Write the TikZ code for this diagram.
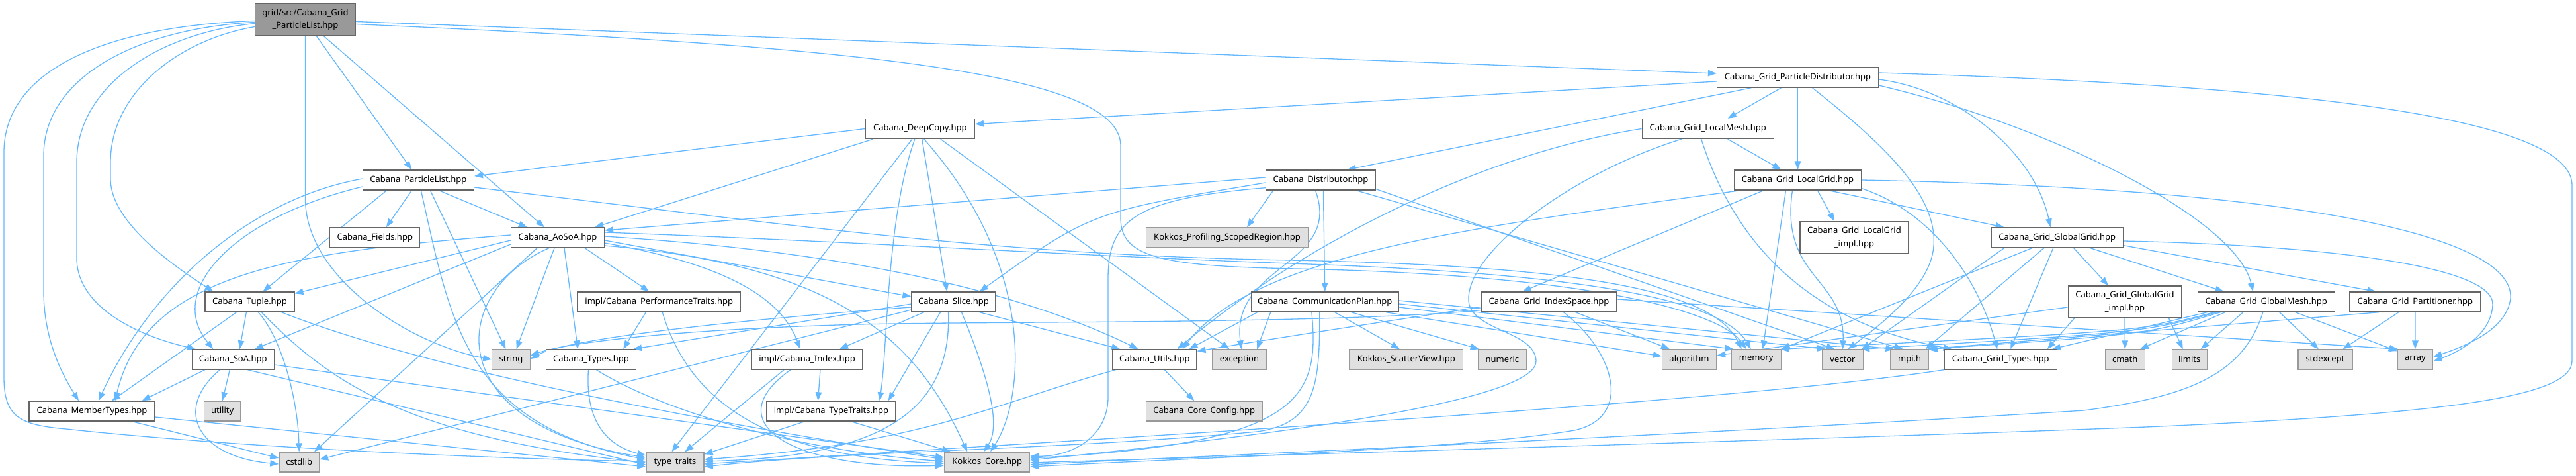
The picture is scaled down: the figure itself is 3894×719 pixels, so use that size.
\documentclass[tikz,border=0pt]{standalone}
\usepackage{fontspec}
\setmainfont{Noto Sans}
\usetikzlibrary{arrows.meta,calc}
\definecolor{edgec}{HTML}{63B8FF}
\definecolor{nodeborder}{HTML}{666666}
\definecolor{extfill}{HTML}{E0E0E0}
\definecolor{extborder}{HTML}{999999}
\definecolor{rootfill}{HTML}{999999}
\pgfdeclarelayer{bg}
\pgfsetlayers{bg,main}
\newcommand\nfont{\fontsize{13}{19.4}\selectfont}
\begin{document}
\begin{tikzpicture}[x=1pt,y=-1pt,
  nbox/.style={draw=nodeborder, fill=white, line width=1.3pt, minimum height=30pt, inner sep=0pt, font=\nfont, align=center, text=black},
  xbox/.style={nbox, draw=extborder, fill=extfill},
  rbox/.style={nbox, fill=rootfill, draw=nodeborder},
  edg/.style={draw=edgec, line width=1.3pt, -{Triangle[length=13pt,width=9.5pt]}}]
\useasboundingbox (0,0) rectangle (3894,719);
% nodes
\node[rbox, minimum width=152pt, minimum height=49pt] (root) at (461.5,29.5) {grid/src/Cabana\_Grid\\\_ParticleList.hpp};
\node[nbox, minimum width=244pt] (PD) at (2717.5,117) {Cabana\_Grid\_ParticleDistributor.hpp};
\node[nbox, minimum width=165pt] (DC) at (1390.8,194.5) {Cabana\_DeepCopy.hpp};
\node[nbox, minimum width=199pt] (LM) at (2581.7,194.5) {Cabana\_Grid\_LocalMesh.hpp};
\node[nbox, minimum width=168pt] (PL) at (632.4,272) {Cabana\_ParticleList.hpp};
\node[nbox, minimum width=166pt] (Dist) at (1996.4,272) {Cabana\_Distributor.hpp};
\node[nbox, minimum width=192pt] (LG) at (2717.5,272) {Cabana\_Grid\_LocalGrid.hpp};
\node[nbox, minimum width=136pt] (Fields) at (566.8,359) {Cabana\_Fields.hpp};
\node[nbox, minimum width=141pt] (AoSoA) at (843,359) {Cabana\_AoSoA.hpp};
\node[xbox, minimum width=245pt] (SR) at (1855,359) {Kokkos\_Profiling\_ScopedRegion.hpp};
\node[nbox, minimum width=164pt, minimum height=48pt] (LGi) at (2803,359) {Cabana\_Grid\_LocalGrid\\\_impl.hpp};
\node[nbox, minimum width=199pt] (GG) at (3109.7,359) {Cabana\_Grid\_GlobalGrid.hpp};
\node[nbox, minimum width=135pt] (Tuple) at (377.4,456) {Cabana\_Tuple.hpp};
\node[nbox, minimum width=247pt] (PT) at (996.3,456) {impl/Cabana\_PerformanceTraits.hpp};
\node[nbox, minimum width=127pt] (Slice) at (1441.5,456) {Cabana\_Slice.hpp};
\node[nbox, minimum width=223pt] (CP) at (2002.8,456) {Cabana\_CommunicationPlan.hpp};
\node[nbox, minimum width=205pt] (IS) at (2341.5,456) {Cabana\_Grid\_IndexSpace.hpp};
\node[nbox, minimum width=171.5pt, minimum height=48pt] (GGi) at (3212,456) {Cabana\_Grid\_GlobalGrid\\\_impl.hpp};
\node[nbox, minimum width=207pt] (GM) at (3425.7,456) {Cabana\_Grid\_GlobalMesh.hpp};
\node[nbox, minimum width=198pt] (Part) at (3650.8,456) {Cabana\_Grid\_Partitioner.hpp};
\node[nbox, minimum width=124pt] (SoA) at (352.3,543) {Cabana\_SoA.hpp};
\node[xbox, minimum width=57.6pt] (string) at (772.5,543) {string};
\node[nbox, minimum width=136pt] (Types) at (893.5,543) {Cabana\_Types.hpp};
\node[nbox, minimum width=167pt] (Index) at (1220,543) {impl/Cabana\_Index.hpp};
\node[nbox, minimum width=127pt] (Utils) at (1745.4,543) {Cabana\_Utils.hpp};
\node[xbox, minimum width=82pt] (exception) at (1873.5,543) {exception};
\node[xbox, minimum width=172pt] (SV) at (2125.8,543) {Kokkos\_ScatterView.hpp};
\node[xbox, minimum width=73pt] (numeric) at (2270.9,543) {numeric};
\node[xbox, minimum width=82pt] (algorithm) at (2553.5,543) {algorithm};
\node[xbox, minimum width=75pt] (memory) at (2654.7,543) {memory};
\node[xbox, minimum width=62pt] (vector) at (2785.5,543) {vector};
\node[xbox, minimum width=57pt] (mpi) at (2886.6,543) {mpi.h};
\node[nbox, minimum width=170pt] (GT) at (3024.2,543) {Cabana\_Grid\_Types.hpp};
\node[xbox, minimum width=60pt] (cmath) at (3212.2,543) {cmath};
\node[xbox, minimum width=53pt] (limits) at (3309.7,543) {limits};
\node[xbox, minimum width=82pt] (stdexcept) at (3514.9,543) {stdexcept};
\node[xbox, minimum width=53.5pt] (array) at (3650.9,543) {array};
\node[nbox, minimum width=190pt] (MT) at (139,621) {Cabana\_MemberTypes.hpp};
\node[xbox, minimum width=55.5pt] (utility) at (336.2,621) {utility};
\node[nbox, minimum width=195pt] (TT) at (1256.5,621) {impl/Cabana\_TypeTraits.hpp};
\node[xbox, minimum width=176pt] (CC) at (1820.2,621) {Cabana\_Core\_Config.hpp};
\node[xbox, minimum width=60.5pt] (cstdlib) at (452.2,698) {cstdlib};
\node[xbox, minimum width=87pt] (tt) at (1020.4,698) {type\_traits};
\node[xbox, minimum width=129pt] (KC) at (1492.2,698) {Kokkos\_Core.hpp};
\begin{pgfonlayer}{bg}
\fill[white] (0,0) rectangle (3894,719);
% root
\draw[edg] ($(root.east)+(0,3)$) -- ($(PD.west)+(0,-6)$);
\draw[edg] ($(root.south)+(17,0)$) -- ($(PL.north)+(-10,0)$);
\draw[edg] ($(root.south)+(28,0)$) -- ($(AoSoA.north)+(-20,0)$);
\draw[edg] ($(root.west)+(0,2)$) .. controls (150,40) and (6,110) .. (6,230) -- (6,570) .. controls (6,630) and (30,642) .. (100,648) .. controls (400,680) and (800,694) .. ($(tt.west)+(0,-1)$);
\draw[edg] ($(root.west)+(0,4)$) .. controls (200,44) and (66,120) .. (66,235) -- (66,440) .. controls (66,520) and (100,575) .. ($(MT.north)+(-20,0)$);
\draw[edg] ($(root.west)+(0,6)$) .. controls (240,50) and (116,130) .. (116,245) -- (116,390) .. controls (116,460) and (200,505) .. ($(SoA.north west)+(6,0)$);
\draw[edg] ($(root.west)+(0,11)$) .. controls (270,60) and (167,140) .. (167,245) -- (167,270) .. controls (167,335) and (260,400) .. ($(Tuple.north)+(-55,0)$);
\draw[edg] (root.south) -- (461.5,300) .. controls (461.5,420) and (620,520) .. (string.west);
\draw[edg] ($(root.east)+(0,7)$) .. controls (1300,70) and (1694,110) .. (1694,220) -- (1694,330) .. controls (1694,390) and (1760,402) .. (1960,406) .. controls (2400,415) and (2600,470) .. ($(memory.north)+(-15,0)$);
% PD
\draw[edg] ($(PD.west)+(0,6)$) -- ($(DC.east)+(0,-7)$);
\draw[edg] ($(PD.south)+(-70,0)$) -- ($(Dist.north)+(40,0)$);
\draw[edg] ($(PD.south)+(-25,0)$) -- ($(LM.north)+(30,0)$);
\draw[edg] (PD.south) -- (LG.north);
\draw[edg] ($(PD.south)+(22,0)$) .. controls (2850,220) and (2935,300) .. (2922,380) .. controls (2912,440) and (2830,500) .. ($(vector.north)+(8,0)$);
\draw[edg] ($(PD.east)+(0,3)$) .. controls (2960,135) and (3075,230) .. ($(GG.north)+(-10,0)$);
\draw[edg] ($(PD.east)+(0,12)$) .. controls (3100,190) and (3380,330) .. ($(GM.north)+(-20,0)$);
\draw[edg] ($(PD.east)+(0,-7)$) .. controls (3500,130) and (3888,180) .. (3888,280) -- (3888,545) .. controls (3888,600) and (3700,625) .. (3244,645) .. controls (2800,662) and (2000,685) .. ($(KC.east)+(0,1)$);
% DeepCopy
\draw[edg] (DC.west) -- ($(PL.east)+(0,-6)$);
\draw[edg] ($(DC.south west)+(12,0)$) -- ($(AoSoA.north east)+(-15,0)$);
\draw[edg] ($(DC.south)+(-12,0)$) -- ($(tt.north)+(-5,0)$);
\draw[edg] ($(DC.south)+(-8,0)$) .. controls (1340,330) and (1342,520) .. ($(TT.north east)+(-25,0)$);
\draw[edg] ($(DC.south)+(3,0)$) -- ($(Slice.north)+(-10,0)$);
\draw[edg] ($(DC.south)+(6,0)$) .. controls (1565,400) and (1550,600) .. ($(KC.north)+(5,0)$);
\draw[edg] ($(DC.south)+(31,0)$) -- ($(exception.north)+(-15,0)$);
% LocalMesh
\draw[edg] ($(LM.south)+(30,0)$) -- ($(LG.north)+(-25,0)$);
\draw[edg] ($(LM.south)+(-10,0)$) .. controls (2610,330) and (2700,480) .. ($(GT.north west)+(12,0)$);
\draw[edg] (LM.west) .. controls (2250,230) and (1980,360) .. ($(Utils.north east)+(-30,0)$);
\draw[edg] ($(LM.south)+(-40,0)$) .. controls (2380,260) and (2215,380) .. (2220,455) .. controls (2225,500) and (2320,500) .. (2322,545) .. controls (2324,600) and (2000,650) .. ($(KC.east)+(0,-3)$);
% ParticleList
\draw[edg] ($(PL.west)+(0,-2)$) .. controls (380,300) and (230,430) .. ($(MT.north)+(10,0)$);
\draw[edg] ($(PL.west)+(0,10)$) .. controls (350,330) and (250,440) .. ($(SoA.north)+(-30,0)$);
\draw[edg] ($(PL.south)+(-48,0)$) -- ($(Tuple.north)+(20,0)$);
\draw[edg] ($(PL.south)+(-10,0)$) -- ($(Fields.north)+(17,0)$);
\draw[edg] ($(PL.south)+(4,0)$) .. controls (680,480) and (700,640) .. ($(tt.west)+(0,-4)$);
\draw[edg] ($(PL.south)+(18,0)$) -- ($(string.north)+(-8,0)$);
\draw[edg] ($(PL.south)+(31,0)$) -- ($(AoSoA.north west)+(25,0)$);
\draw[edg] ($(PL.east)+(0,11)$) .. controls (1200,340) and (1500,385) .. (1950,393) .. controls (2400,402) and (2590,440) .. ($(memory.north)+(-22,0)$);
% AoSoA
\draw[edg] ($(AoSoA.west)+(0,-4)$) .. controls (450,380) and (220,410) .. ($(MT.north)+(35,0)$);
\draw[edg] ($(AoSoA.west)+(0,4)$) -- ($(Tuple.north east)+(0,3)$);
\draw[edg] ($(AoSoA.west)+(0,10)$) -- ($(SoA.north east)+(-30,0)$);
\draw[edg] ($(AoSoA.south west)+(40,0)$) -- ($(cstdlib.north east)+(-8,0)$);
\draw[edg] ($(AoSoA.south west)+(58,0)$) .. controls (680,440) and (660,640) .. ($(tt.west)+(0,-7)$);
\draw[edg] ($(AoSoA.south)+(-5,0)$) -- ($(string.north)+(8,0)$);
\draw[edg] ($(AoSoA.south)+(10,0)$) -- ($(Types.north)+(-20,0)$);
\draw[edg] ($(AoSoA.south east)+(-30,0)$) -- ($(PT.north)+(-15,0)$);
\draw[edg] ($(AoSoA.east)+(0,-2)$) .. controls (1200,375) and (1500,420) .. ($(Utils.north)+(-25,0)$);
\draw[edg] ($(AoSoA.east)+(0,4)$) -- ($(Slice.west)+(0,-8)$);
\draw[edg] ($(AoSoA.east)+(0,8)$) .. controls (1100,400) and (1180,450) .. ($(Index.north)+(-10,0)$);
\draw[edg] ($(AoSoA.east)+(0,12)$) .. controls (1250,400) and (1380,500) .. ($(KC.north)+(-30,0)$);
\draw[edg] ($(AoSoA.east)+(0,-8)$) .. controls (1300,365) and (1600,385) .. (1950,398) .. controls (2380,412) and (2600,450) .. ($(memory.north)+(-8,0)$);
% Tuple
\draw[edg] ($(Tuple.south)+(-20,0)$) -- ($(MT.north)+(30,0)$);
\draw[edg] ($(Tuple.south)+(-5,0)$) -- ($(SoA.north)+(10,0)$);
\draw[edg] ($(Tuple.south)+(13,0)$) .. controls (425,510) and (450,600) .. (cstdlib.north);
\draw[edg] ($(Tuple.south)+(18,0)$) .. controls (500,580) and (620,660) .. ($(tt.west)+(0,1)$);
\draw[edg] ($(Tuple.south east)+(-20,0)$) .. controls (600,540) and (900,610) .. ($(KC.west)+(0,-4)$);
% SoA
\draw[edg] ($(SoA.south west)+(20,0)$) -- ($(MT.north east)+(-20,0)$);
\draw[edg] ($(SoA.south)+(-20,0)$) .. controls (260,620) and (300,690) .. ($(cstdlib.west)+(0,3)$);
\draw[edg] ($(SoA.south)+(-5,0)$) -- (utility.north);
\draw[edg] ($(SoA.south)+(22,0)$) -- ($(tt.west)+(0,4)$);
\draw[edg] ($(SoA.east)+(0,8)$) -- ($(KC.west)+(0,-7)$);
% MemberTypes
\draw[edg] ($(MT.south east)+(-35,0)$) -- ($(cstdlib.west)+(0,-6)$);
\draw[edg] ($(MT.east)+(0,9)$) -- ($(tt.west)+(0,7)$);
% Types
\draw[edg] ($(Types.south)+(-4,0)$) .. controls (885,620) and (905,670) .. ($(tt.west)+(0,-10)$);
\draw[edg] ($(Types.south)+(8,0)$) .. controls (1000,620) and (1200,680) .. ($(KC.west)+(0,-1)$);
% PerformanceTraits
\draw[edg] ($(PT.south)+(-20,0)$) -- ($(Types.north east)+(-20,0)$);
\draw[edg] ($(PT.south)+(5,0)$) .. controls (1040,600) and (1150,690) .. ($(KC.west)+(0,2)$);
% Index
\draw[edg] ($(Index.south)+(-35,0)$) -- ($(tt.north)+(15,0)$);
\draw[edg] ($(Index.south)+(-25,0)$) .. controls (1080,640) and (1200,710) .. ($(KC.west)+(0,5)$);
\draw[edg] ($(Index.south)+(20,0)$) -- ($(TT.north)+(-20,0)$);
% TypeTraits
\draw[edg] ($(TT.south)+(-40,0)$) -- ($(tt.north east)+(0,4)$);
\draw[edg] ($(TT.south)+(30,0)$) -- ($(KC.north west)+(10,0)$);
% Utils
\draw[edg] ($(Utils.south)+(15,0)$) -- ($(CC.north)+(-15,0)$);
\draw[edg] ($(Utils.south west)+(5,0)$) .. controls (1500,610) and (1400,670) .. ($(tt.east)+(0,-4)$);
% Grid types
\draw[edg] (GT.south west) .. controls (2600,610) and (1700,660) .. ($(tt.east)+(0,3)$);
% CommunicationPlan
\draw[edg] ($(CP.south west)+(10,0)$) -- ($(Utils.north east)+(-12,0)$);
\draw[edg] ($(CP.south west)+(30,0)$) -- ($(exception.north east)+(-15,0)$);
\draw[edg] ($(CP.south)+(-8,0)$) .. controls (1995,580) and (1990,640) .. (1900,652) .. controls (1600,680) and (1300,680) .. ($(tt.east)+(0,7)$);
\draw[edg] ($(CP.south)+(-20,0)$) .. controls (1995,600) and (1970,670) .. ($(KC.east)+(0,-6)$);
\draw[edg] ($(CP.south)+(15,0)$) -- ($(SV.north)+(-10,0)$);
\draw[edg] ($(CP.south)+(40,0)$) -- ($(numeric.north west)+(2,0)$);
\draw[edg] ($(CP.south east)+(-20,0)$) -- ($(algorithm.west)+(0,-5)$);
\draw[edg] ($(CP.east)+(0,8)$) -- ($(memory.north west)+(4,0)$);
\draw[edg] ($(CP.east)+(0,3)$) -- ($(vector.north west)+(6,0)$);
\draw[edg] ($(CP.east)+(0,-2)$) -- ($(mpi.north west)+(6,0)$);
% IndexSpace
\draw[edg] ($(IS.south west)+(0,-8)$) .. controls (2000,500) .. ($(Utils.north east)+(0,3)$);
\draw[edg] ($(IS.south west)+(0,-3)$) .. controls (2000,490) and (1500,485) .. (1300,490) .. controls (1000,498) and (850,520) .. ($(string.east)+(0,-6)$);
\draw[edg] ($(IS.south)+(22,0)$) .. controls (2440,530) and (2470,630) .. (2380,650) .. controls (2200,680) and (1800,692) .. ($(KC.east)+(0,7)$);
\draw[edg] ($(IS.south)+(40,0)$) -- ($(algorithm.north west)+(12,0)$);
\draw[edg] ($(IS.east)+(0,-4)$) -- ($(array.north west)+(2,0)$);
% Slice
\draw[edg] ($(Slice.west)+(0,3)$) -- ($(Types.north east)+(-5,0)$);
\draw[edg] ($(Slice.west)+(0,8)$) .. controls (1150,480) and (860,510) .. ($(string.east)+(0,-1)$);
\draw[edg] ($(Slice.west)+(0,12)$) -- ($(cstdlib.east)+(0,-4)$);
\draw[edg] ($(Slice.south)+(-45,0)$) -- ($(Index.north east)+(-35,0)$);
\draw[edg] ($(Slice.south)+(-20,0)$) -- ($(TT.north east)+(-12,0)$);
\draw[edg] ($(Slice.south)+(-8,0)$) .. controls (1440,640) and (1300,690) .. ($(tt.east)+(0,-1)$);
\draw[edg] ($(Slice.south)+(12,0)$) .. controls (1490,560) and (1515,640) .. ($(KC.north)+(-5,0)$);
\draw[edg] ($(Slice.south east)+(-25,0)$) -- ($(Utils.north west)+(12,0)$);
% Distributor
\draw[edg] ($(Dist.west)+(0,-4)$) -- ($(AoSoA.east)+(0,-11)$);
\draw[edg] ($(Dist.west)+(0,4)$) .. controls (1650,320) .. ($(Slice.north east)+(-25,0)$);
\draw[edg] ($(Dist.south west)+(12,0)$) -- ($(SR.north)+(30,0)$);
\draw[edg] ($(Dist.south west)+(0,-4)$) .. controls (1720,300) and (1675,330) .. (1675,420) -- (1675,600) .. controls (1675,660) and (1620,690) .. ($(KC.east)+(0,-9)$);
\draw[edg] ($(Dist.south)+(4,0)$) -- (CP.north);
\draw[edg] ($(Dist.south)+(-8,0)$) .. controls (2030,400) and (1860,400) .. ($(exception.north)+(3,0)$);
\draw[edg] ($(Dist.south east)+(-30,0)$) -- ($(mpi.north)+(-10,0)$);
\draw[edg] ($(Dist.south east)+(0,-2)$) -- ($(vector.north)+(-12,0)$);
% LocalGrid
\draw[edg] ($(LG.south)+(30,0)$) -- ($(LGi.north)+(-30,0)$);
\draw[edg] ($(LG.south east)+(-50,0)$) -- ($(GG.north west)+(20,0)$);
\draw[edg] ($(LG.south west)+(45,0)$) -- ($(IS.north)+(-40,0)$);
\draw[edg] ($(LG.south west)+(10,0)$) .. controls (2250,340) and (1900,380) .. ($(Utils.north east)+(-22,0)$);
\draw[edg] ($(LG.south)+(-18,0)$) -- ($(memory.north)+(10,0)$);
\draw[edg] ($(LG.south)+(-8,0)$) .. controls (2690,420) and (2790,420) .. (vector.north);
\draw[edg] ($(LG.south east)+(0,-3)$) .. controls (2920,320) and (2990,420) .. ($(GT.north)+(-5,0)$);
\draw[edg] (LG.east) .. controls (3500,285) and (3800,360) .. (3795,450) .. controls (3790,500) and (3720,525) .. ($(array.east)+(0,-4)$);
% GlobalGrid
\draw[edg] ($(GG.south west)+(62,0)$) -- (memory.north east);
\draw[edg] ($(GG.south west)+(20,0)$) -- ($(vector.north east)+(-3,0)$);
\draw[edg] ($(GG.south west)+(80,0)$) -- ($(mpi.north east)+(-5,0)$);
\draw[edg] ($(GG.south)+(-6,0)$) -- ($(GT.north)+(15,0)$);
\draw[edg] ($(GG.south)+(25,0)$) -- ($(GGi.north)+(-25,0)$);
\draw[edg] ($(GG.south east)+(-50,0)$) -- ($(GM.north west)+(40,0)$);
\draw[edg] ($(GG.south east)+(0,-4)$) -- ($(Part.north west)+(40,0)$);
\draw[edg] ($(GG.east)+(0,5)$) .. controls (3500,370) and (3770,400) .. (3768,460) .. controls (3766,505) and (3720,530) .. ($(array.east)+(0,3)$);
% GlobalGrid impl
\draw[edg] (GGi.south) -- (cmath.north);
\draw[edg] ($(GGi.south east)+(-20,0)$) -- ($(limits.north)+(-10,0)$);
\draw[edg] ($(GGi.south west)+(10,0)$) -- ($(GT.north east)+(-15,0)$);
\draw[edg] ($(GGi.west)+(0,8)$) -- ($(algorithm.east)+(0,-6)$);
% GlobalMesh
\draw[edg] ($(GM.south west)+(25,0)$) .. controls (3240,500) .. ($(memory.north east)+(-2,0)$);
\draw[edg] ($(GM.south west)+(30,0)$) .. controls (3240,502) .. ($(vector.north east)+(-4,0)$);
\draw[edg] ($(GM.south west)+(35,0)$) .. controls (3245,505) .. (mpi.north east);
\draw[edg] ($(GM.south west)+(15,0)$) -- ($(GT.north east)+(-8,0)$);
\draw[edg] ($(GM.south west)+(42,0)$) -- ($(cmath.north east)+(-8,0)$);
\draw[edg] ($(GM.south)+(-35,0)$) -- ($(limits.north east)+(-10,0)$);
\draw[edg] ($(GM.south)+(-5,0)$) .. controls (3390,570) and (3300,600) .. (3150,620) .. controls (2500,660) and (1900,685) .. ($(KC.east)+(0,4)$);
\draw[edg] ($(GM.south)+(20,0)$) -- ($(stdexcept.north)+(-10,0)$);
\draw[edg] ($(GM.south east)+(-60,0)$) -- ($(array.north west)+(0,3)$);
% Partitioner
\draw[edg] ($(Part.south west)+(45,0)$) -- ($(mpi.north east)+(-3,0)$);
\draw[edg] ($(Part.south)+(-25,0)$) -- ($(stdexcept.north east)+(-15,0)$);
\draw[edg] (Part.south) -- (array.north);
\end{pgfonlayer}
\end{tikzpicture}
\end{document}
